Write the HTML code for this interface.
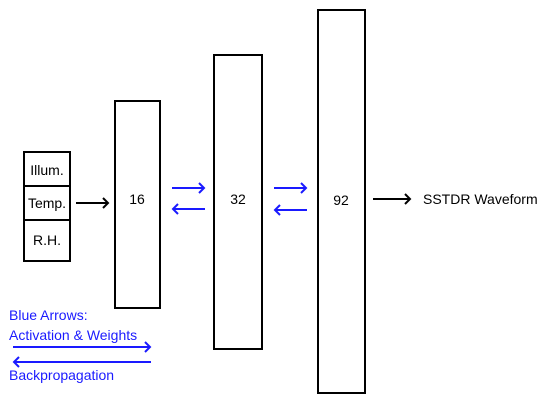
<!DOCTYPE html>
<html><head><meta charset="utf-8"><style>
html,body{margin:0;padding:0;background:#fff;}
svg{display:block;}
text{font-family:"Liberation Sans",sans-serif;font-size:14px;}
</style></head><body>
<svg width="545" height="413" viewBox="0 0 545 413" xmlns="http://www.w3.org/2000/svg">
<g fill="none" stroke="#000" stroke-width="2">
<rect x="24" y="152" width="46" height="109"/>
<line x1="24" y1="186" x2="70" y2="186"/>
<line x1="24" y1="220" x2="70" y2="220"/>
<rect x="115" y="101" width="45" height="207"/>
<rect x="214" y="55" width="48" height="294"/>
<rect x="318" y="10" width="47" height="383"/>
<line x1="76" y1="203" x2="108" y2="203"/>
<polyline points="103,198 108,203 103,208"/>
<line x1="373" y1="199" x2="410" y2="199"/>
<polyline points="405,194 410,199 405,204"/>
</g>
<g fill="none" stroke="#1a1aff" stroke-width="2">
<line x1="172" y1="188" x2="204" y2="188"/><polyline points="199,183 204,188 199,193"/>
<line x1="173" y1="209" x2="205" y2="209"/><polyline points="178,204 173,209 178,214"/>
<line x1="274" y1="188" x2="306" y2="188"/><polyline points="301,183 306,188 301,193"/>
<line x1="275" y1="210" x2="307" y2="210"/><polyline points="280,205 275,210 280,215"/>
<line x1="13" y1="347" x2="150" y2="347"/><polyline points="145,342 150,347 145,352"/>
<line x1="14" y1="362" x2="151" y2="362"/><polyline points="19,357 14,362 19,367"/>
</g>
<g fill="#000" text-anchor="middle">
<text x="47" y="175">Illum.</text>
<text x="47" y="208">Temp.</text>
<text x="47" y="245">R.H.</text>
<text x="137" y="204">16</text>
<text x="238" y="204">32</text>
<text x="341" y="205">92</text>
</g>
<text x="423" y="204" fill="#000">SSTDR Waveform</text>
<g fill="#1a1aff">
<text x="9" y="320">Blue Arrows:</text>
<text x="9" y="340">Activation &amp; Weights</text>
<text x="9" y="380">Backpropagation</text>
</g>
</svg>
</body></html>
